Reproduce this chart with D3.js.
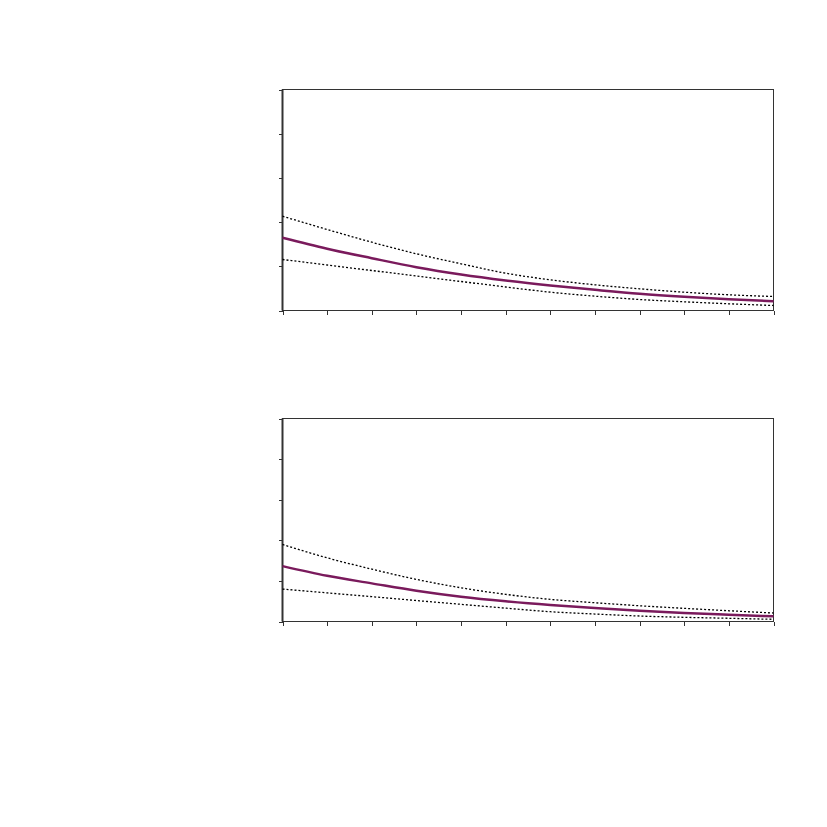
<!DOCTYPE html>
<html lang="en">
<head>
	<meta charset="utf-8" />
	<title>decay panels</title>
	<style>
		* {margin: 0; padding: 0;}
		body {background: #fff;}
		.border {fill: none; stroke: #333; stroke-width: 1; shape-rendering: crispEdges;}
		.axis path, .axis line {stroke: #333; shape-rendering: crispEdges;}
	</style>
</head>
<body>
	<div id="viz"></div>
	<script src="https://cdn.jsdelivr.net/npm/d3@7"></script>
	<script type="text/javascript">

	var w = 827, h = 827;

	// horizon steps
	var steps = [0, 1, 2, 3, 4, 5, 6, 7, 8, 9, 10, 11];
	var yTicks = [0, 1, 2, 3, 4, 5];

	// top panel
	var topMain  = [1.645, 1.396, 1.183, 0.980, 0.814, 0.679, 0.566, 0.468, 0.378, 0.310, 0.256, 0.210];
	var topUpper = [2.133, 1.833, 1.545, 1.283, 1.057, 0.844, 0.695, 0.581, 0.491, 0.414, 0.355, 0.317];
	var topLower = [1.154, 1.029, 0.905, 0.780, 0.656, 0.532, 0.414, 0.324, 0.249, 0.197, 0.152, 0.113];

	// bottom panel
	var botMain  = [1.364, 1.125, 0.939, 0.757, 0.609, 0.496, 0.405, 0.332, 0.265, 0.209, 0.167, 0.128];
	var botUpper = [1.897, 1.568, 1.290, 1.037, 0.830, 0.668, 0.545, 0.462, 0.388, 0.324, 0.265, 0.209];
	var botLower = [0.799, 0.705, 0.612, 0.516, 0.423, 0.329, 0.241, 0.184, 0.135, 0.103, 0.079, 0.054];

	var svg = d3.select("#viz").append("svg").attr("width", w).attr("height", h);

	var x = d3.scaleLinear().domain([0, 11]).range([282.5, 773.5]);

	function panel(top, bottom, main, upper, lower) {
		var y = d3.scaleLinear().domain([0, 5]).range([bottom, top]);
		var g = svg.append("g");

		// frame
		g.append("rect").attr("class", "border")
			.attr("x", x(0)).attr("y", top)
			.attr("width", x(11) - x(0)).attr("height", bottom - top);

		g.append("g").attr("class", "axis")
			.attr("transform", "translate(0," + bottom + ")")
			.call(d3.axisBottom(x).tickValues(steps).tickSize(4).tickFormat(""))
			.call(function(s){ s.select(".domain").remove(); });

		g.append("g").attr("class", "axis")
			.attr("transform", "translate(" + x(0) + ",0)")
			.call(d3.axisLeft(y).tickValues(yTicks).tickSize(4).tickFormat(""))
			.call(function(s){ s.select(".domain").remove(); });

		// thick left spine
		g.append("line")
			.attr("x1", x(0)).attr("x2", x(0))
			.attr("y1", top).attr("y2", bottom)
			.style("stroke", "#333").style("stroke-width", 2);

		var line = d3.line()
			.x(function(d, i){ return x(steps[i]); })
			.y(function(d){ return y(d); })
			.curve(d3.curveMonotoneX);

		[upper, lower].forEach(function(s){
			g.append("path").attr("d", line(s))
				.style("fill", "none").style("stroke", "#000")
				.style("stroke-width", 1.3).style("stroke-dasharray", "2,2");
		});

		g.append("path").attr("d", line(main))
			.style("fill", "none").style("stroke", "#7a1a5c")
			.style("stroke-width", 2.5);
	}

	panel(89.5, 310.5, topMain, topUpper, topLower);
	panel(418.5, 621.5, botMain, botUpper, botLower);
	</script>
</body>
</html>
